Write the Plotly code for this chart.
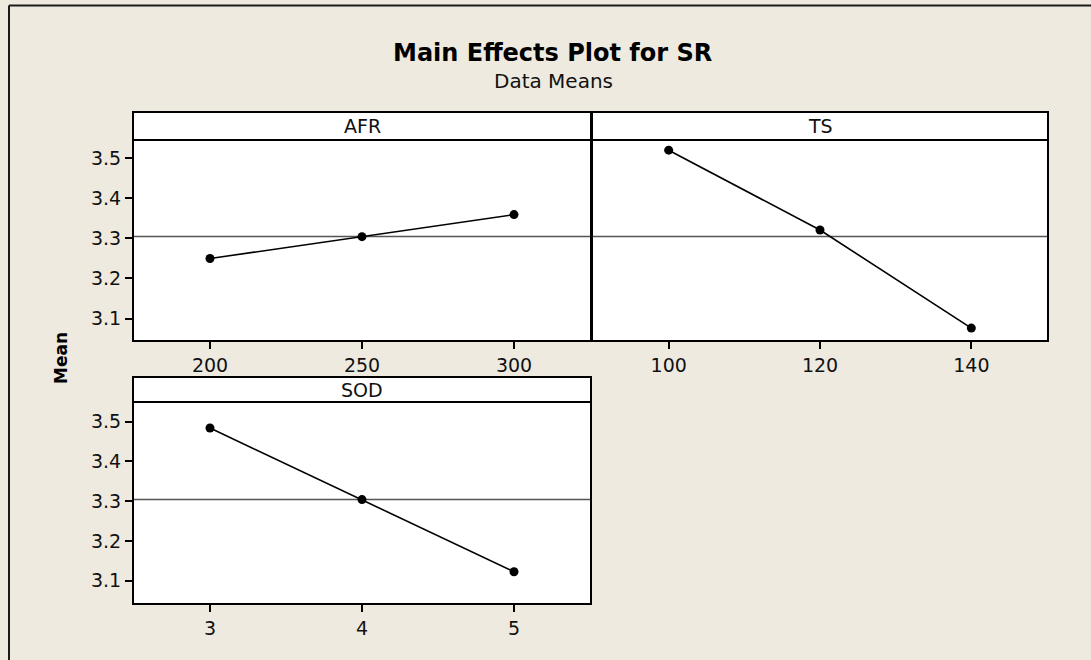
import numpy as np
import plotly.graph_objects as go

W, H = 1091, 660

# ---- data ----
afr_levels = [200, 250, 300]
afr_means = [3.2495, 3.304, 3.359]
ts_levels = [100, 120, 140]
ts_means = [3.5196, 3.3206, 3.0762]
sod_levels = [3, 4, 5]
sod_means = [3.484, 3.304, 3.1226]
y_ticks = [3.1, 3.2, 3.3, 3.4, 3.5]
y_tick_labels = ["3.1", "3.2", "3.3", "3.4", "3.5"]

grand_mean = float(np.mean(afr_means + ts_means + sod_means))

BG = "#EEEAE0"
FONT = "DejaVu Sans"

def px_x(p):
    return p / W

def px_y(p):
    return 1 - p / H

fig = go.Figure()

series = [
    ("x", "y", afr_levels, afr_means),
    ("x2", "y2", ts_levels, ts_means),
    ("x3", "y3", sod_levels, sod_means),
]
for xa, ya, xs, ys in series:
    fig.add_trace(go.Scatter(
        x=xs, y=ys, xaxis=xa, yaxis=ya, mode="lines+markers",
        line=dict(color="black", width=1.6),
        marker=dict(color="black", size=9),
        showlegend=False, hoverinfo="skip"))

axis_common = dict(
    showline=True, mirror=True, linecolor="black", linewidth=2,
    ticks="outside", ticklen=7, tickwidth=1.5, tickcolor="black",
    showgrid=False, zeroline=False,
    tickfont=dict(family=FONT, size=19, color="#111"),
)

# panel geometry in pixels (plot areas)
top_row = (141, 340)
bot_row = (403, 603)
left_col = (134, 590)
right_col = (593, 1047)

fig.update_layout(
    width=W, height=H,
    margin=dict(l=0, r=0, t=0, b=0),
    paper_bgcolor=BG, plot_bgcolor="white",
    showlegend=False,
    xaxis=dict(axis_common, domain=[px_x(left_col[0]), px_x(left_col[1])],
               range=[175, 325], tickvals=afr_levels, anchor="y"),
    yaxis=dict(axis_common, domain=[px_y(top_row[1]), px_y(top_row[0])],
               range=[3.0465, 3.5425], tickvals=y_ticks, ticktext=y_tick_labels,
               anchor="x"),
    xaxis2=dict(axis_common, domain=[px_x(right_col[0]), px_x(right_col[1])],
                range=[90, 150], tickvals=ts_levels, anchor="y2"),
    yaxis2=dict(axis_common, domain=[px_y(top_row[1]), px_y(top_row[0])],
                range=[3.0465, 3.5425], tickvals=[], showticklabels=False,
                ticks="", anchor="x2"),
    xaxis3=dict(axis_common, domain=[px_x(left_col[0]), px_x(left_col[1])],
                range=[2.5, 5.5], tickvals=sod_levels, anchor="y3"),
    yaxis3=dict(axis_common, domain=[px_y(bot_row[1]), px_y(bot_row[0])],
                range=[3.044, 3.547], tickvals=y_ticks, ticktext=y_tick_labels,
                anchor="x3"),
)

shapes = []
# grand mean reference lines
for xa, ya in [("x", "y"), ("x2", "y2"), ("x3", "y3")]:
    shapes.append(dict(type="line", xref=f"{xa} domain", yref=ya,
                       x0=0, x1=1, y0=grand_mean, y1=grand_mean,
                       line=dict(color="#555555", width=1.5), layer="below"))

# header boxes (pixel edges aligned with the axis frame lines)
headers = [
    ("AFR", (133, 591), (112, 140)),
    ("TS", (592, 1048), (112, 140)),
    ("SOD", (133, 591), (377, 402)),
]
annotations = []
for label, (x0, x1), (y0, y1) in headers:
    shapes.append(dict(type="rect", xref="paper", yref="paper",
                       x0=px_x(x0), x1=px_x(x1), y0=px_y(y1), y1=px_y(y0),
                       fillcolor="white", line=dict(color="black", width=2)))
    annotations.append(dict(text=label, xref="paper", yref="paper",
                            x=px_x((x0 + x1) / 2), y=px_y((y0 + y1) / 2),
                            xanchor="center", yanchor="middle", showarrow=False,
                            font=dict(family=FONT, size=19, color="#111")))

# outer frame (top and left edges)
shapes.append(dict(type="line", xref="paper", yref="paper",
                   x0=px_x(9), x1=1, y0=px_y(5.5), y1=px_y(5.5),
                   line=dict(color="#1a1a1a", width=2)))
shapes.append(dict(type="line", xref="paper", yref="paper",
                   x0=px_x(9), x1=px_x(9), y0=0, y1=px_y(5.5),
                   line=dict(color="#1a1a1a", width=2)))

annotations.append(dict(text="<b>Main Effects Plot for SR</b>", xref="paper", yref="paper",
                        x=px_x(552), y=px_y(53), xanchor="center", yanchor="middle",
                        showarrow=False, font=dict(family=FONT, size=24, color="black")))
annotations.append(dict(text="Data Means", xref="paper", yref="paper",
                        x=px_x(553), y=px_y(81), xanchor="center", yanchor="middle",
                        showarrow=False, font=dict(family=FONT, size=20, color="#111")))
annotations.append(dict(text="<b>Mean</b>", xref="paper", yref="paper",
                        x=px_x(61), y=px_y(358), xanchor="center", yanchor="middle",
                        textangle=-90, showarrow=False,
                        font=dict(family=FONT, size=17, color="black")))

fig.update_layout(shapes=shapes, annotations=annotations)

fig.write_html("out.html",
               config={"displayModeBar": False},
               post_script="document.body.style.margin='0';"
                           "document.body.style.overflow='hidden';")
